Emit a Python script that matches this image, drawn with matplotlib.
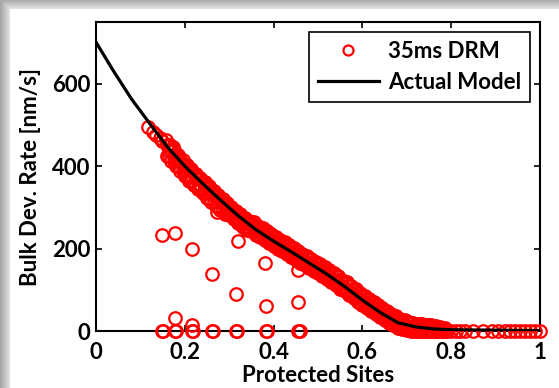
import numpy as np
import matplotlib
matplotlib.use('Agg')
import matplotlib.pyplot as plt

# Actual model curve
model_x = [0.00, 0.04, 0.08, 0.12, 0.16, 0.20, 0.24, 0.28, 0.32, 0.36, 0.40, 0.44,
           0.48, 0.52, 0.56, 0.60, 0.64, 0.68, 0.72, 0.76, 0.80, 0.90, 1.00]
model_y = [701, 630, 563, 505, 448, 400, 358, 318, 280, 246, 218, 192,
           165, 138, 108, 75, 45, 20, 10, 5, 3, 2, 1]

# 35ms DRM: dense band of points following the model
band_x = [0.16, 0.17, 0.18, 0.19, 0.20, 0.21, 0.22, 0.23, 0.24, 0.25, 0.26, 0.27,
          0.28, 0.29, 0.30, 0.31, 0.32, 0.33, 0.34, 0.35, 0.36, 0.37, 0.38, 0.39,
          0.40, 0.41, 0.42, 0.43, 0.44, 0.45, 0.46, 0.47, 0.48, 0.49, 0.50, 0.51,
          0.52, 0.53, 0.54, 0.55, 0.56, 0.57, 0.58, 0.59, 0.60, 0.61, 0.62, 0.63,
          0.64, 0.65, 0.66, 0.67, 0.68, 0.69, 0.70, 0.71, 0.72, 0.73, 0.74, 0.75,
          0.76, 0.77, 0.78]
band_upper = [451, 439, 427, 415, 403, 392, 382, 371, 361, 351, 341, 331,
              321, 311, 302, 292, 283, 274, 266, 264, 256, 249, 242, 235,
              228, 221, 215, 208, 202, 195, 188, 182, 175, 168, 162, 155,
              148, 140, 133, 125, 118, 110, 102, 93, 85, 78, 70, 63,
              55, 49, 42, 36, 30, 26, 23, 20, 18, 16, 15, 14,
              12, 10, 8]
band_lower = [424, 412, 400, 388, 376, 365, 355, 344, 334, 324, 314, 304,
              294, 284, 281, 271, 262, 253, 245, 242, 234, 227, 220, 213,
              206, 199, 193, 186, 180, 173, 166, 160, 153, 146, 140, 133,
              126, 118, 111, 103, 96, 88, 80, 71, 63, 56, 48, 41,
              33, 27, 20, 14, 8, 5, 3, 1, 0, 0, 0, 0,
              0, 0, 0]
mid_x = [0.165, 0.175, 0.185, 0.195, 0.205, 0.215, 0.225, 0.235, 0.245, 0.255, 0.265, 0.275,
         0.285, 0.295, 0.305, 0.315, 0.325, 0.335, 0.345, 0.355, 0.365, 0.375, 0.385, 0.395,
         0.405, 0.415, 0.425, 0.435, 0.445, 0.455, 0.465, 0.475, 0.485, 0.495, 0.505, 0.515,
         0.525, 0.535, 0.545, 0.555, 0.565, 0.575, 0.585, 0.595, 0.605, 0.615, 0.625, 0.635,
         0.645, 0.655, 0.665, 0.675, 0.685, 0.695, 0.705, 0.715, 0.725, 0.735, 0.745, 0.755,
         0.765, 0.775, 0.785]
mid_y = [438, 426, 414, 402, 390, 379, 369, 358, 348, 338, 328, 318,
         308, 298, 289, 279, 270, 261, 253, 249, 241, 234, 227, 220,
         213, 206, 200, 193, 187, 180, 173, 167, 160, 153, 147, 140,
         133, 125, 118, 110, 103, 95, 87, 78, 70, 63, 55, 48,
         40, 34, 27, 21, 15, 12, 10, 7, 5, 4, 3, 2,
         0, 0, 0]

# sparse points at the start of the band
head_x = [0.116, 0.129, 0.135, 0.145, 0.148, 0.158, 0.166, 0.174]
head_y = [494, 482, 476, 468, 462, 464, 452, 446]

# points lying on zero at high coverage
tail_x = [0.79, 0.80, 0.81, 0.82, 0.83, 0.850, 0.872, 0.891, 0.906, 0.921, 0.932,
          0.944, 0.955, 0.966, 0.977, 0.989, 1.000]
tail_y = [1, 1, 1, 1, 1, 1, 1, 1, 1, 1, 1, 1, 1, 1, 1, 1, 1]

# scattered points away from the band
off_x = [0.149, 0.177, 0.216, 0.261, 0.272, 0.315, 0.319, 0.381, 0.382, 0.456, 0.456,
         0.177, 0.216,
         0.149, 0.152, 0.177, 0.180, 0.216, 0.219, 0.261, 0.264, 0.315, 0.318,
         0.382, 0.385, 0.456, 0.459]
off_y = [232, 239, 200, 139, 289, 89, 218, 166, 60, 148, 71,
         31, 14,
         -1, -1, -1, -1, -1, -1, -1, -1, -1, -1,
         -1, -1, -1, -1]

drm_x = (head_x + band_x + band_x + mid_x + mid_x + mid_x
         + tail_x + off_x)
drm_y = (head_y + band_upper + band_lower + mid_y + band_upper + band_lower
         + tail_y + off_y)

plt.rcParams['font.family'] = ['Lato', 'DejaVu Sans']
plt.rcParams['font.weight'] = 'bold'
fs = 16

fig = plt.figure(figsize=(5.59, 3.88), dpi=100)

# grey drop shadow around the white panel
bg = fig.add_axes([0, 0, 1, 1], zorder=-10)
bg.axis('off')
H, W = 388, 559
rows = np.arange(H)[:, None]
cols = np.arange(W)[None, :]
d = np.maximum(np.clip(10 - cols, 0, None), np.clip(9 - rows, 0, None))
shade = np.where(d > 0, 0.90 - 0.025 * d, 1.0)
bg.imshow(shade, cmap='gray', vmin=0, vmax=1, aspect='auto',
          extent=(0, 1, 0, 1), interpolation='bilinear')
bg.set_xlim(0, 1)
bg.set_ylim(0, 1)

ax = fig.add_axes([96 / 559, 57 / 388, 444 / 559, 309 / 388])
ax.plot(drm_x, drm_y, 'o', mfc='none', mec='red', ms=9, mew=1.6,
        clip_on=False, label='35ms DRM', zorder=3)
ax.plot(model_x, model_y, 'k-', lw=2.3, label='Actual Model', zorder=4)

ax.set_xlim(0, 1)
ax.set_ylim(0, 750)
ax.set_xticks([0, 0.2, 0.4, 0.6, 0.8, 1])
ax.set_xticklabels(['0', '0.2', '0.4', '0.6', '0.8', '1'])
ax.set_yticks([0, 200, 400, 600])
ax.tick_params(direction='in', top=True, right=True, length=4, width=1.2,
               labelsize=fs)
ax.tick_params(axis='x', pad=8)
ax.tick_params(axis='y', pad=4)
for s in ax.spines.values():
    s.set_linewidth(1.5)

ax.set_xlabel('Protected Sites', fontsize=fs, fontweight='bold', labelpad=1)
ax.set_ylabel('Bulk Dev. Rate [nm/s]', fontsize=fs, fontweight='bold', labelpad=8)

leg = ax.legend(loc='upper right', bbox_to_anchor=(0.977, 0.968), borderaxespad=0,
                fancybox=False, edgecolor='black', framealpha=1,
                handlelength=2.75, handletextpad=0.4, markerscale=0.8,
                labelspacing=0.45, prop={'weight': 'bold', 'size': fs})
leg.get_frame().set_linewidth(1.2)

fig.savefig('out.png', dpi=100)
